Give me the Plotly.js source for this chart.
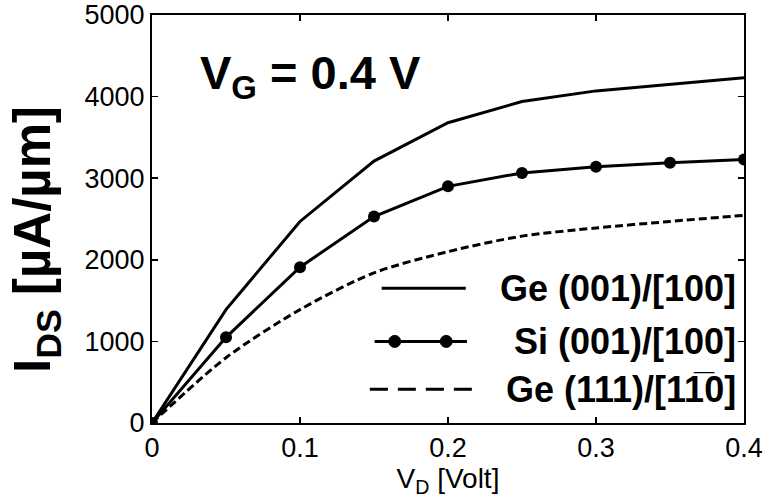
<!DOCTYPE html>
<html>
<head>
<meta charset="utf-8">
<script src="https://cdn.plot.ly/plotly-3.0.1.min.js"></script>
<style>html,body{margin:0;padding:0;background:#fff;}#chart{width:771px;height:502px;}</style>
</head>
<body>
<div id="chart"></div>
<script>
// Drain voltage V_D [Volt]
const vd = [0, 0.05, 0.1, 0.15, 0.2, 0.25, 0.3, 0.35, 0.4];
// Drain current I_DS [µA/µm]
const ge001 = [0, 1390, 2470, 3210, 3680, 3940, 4070, 4150, 4230];
const si001 = [0, 1050, 1910, 2530, 2900, 3065, 3140, 3190, 3230];
const ge111 = [0, 800, 1390, 1840, 2100, 2290, 2390, 2470, 2545];
const seriesNames = ["Ge (001)/[100]", "Si (001)/[100]", "Ge (111)/[11\u03050]"];
const xTicks = [0, 0.1, 0.2, 0.3, 0.4];
const yTicks = [0, 1000, 2000, 3000, 4000, 5000];

const FONT = "Liberation Sans, Arial, sans-serif";

const traces = [
  {x: vd, y: ge001, mode: "lines", name: seriesNames[0],
   line: {color: "#000", width: 3}},
  {x: vd, y: si001, mode: "lines+markers", name: seriesNames[1],
   line: {color: "#000", width: 3}, marker: {color: "#000", size: 12}},
  {x: vd, y: ge111, mode: "lines", name: seriesNames[2],
   line: {color: "#000", width: 3, dash: "8px,4px", shape: "spline", smoothing: 0.8}}
];

// custom legend (samples + labels)
const legY = [0.33, 0.2, 0.083];
const dotX = [0.41, 0.497];
const shapes = [
  {type: "line", xref: "paper", yref: "paper", x0: 0.388, x1: 0.53, y0: legY[0], y1: legY[0], line: {color: "#000", width: 3}},
  {type: "line", xref: "paper", yref: "paper", x0: 0.376, x1: 0.532, y0: legY[1], y1: legY[1], line: {color: "#000", width: 3}},
  {type: "line", xref: "paper", yref: "paper", x0: 0.368, x1: 0.55, y0: legY[2], y1: legY[2], line: {color: "#000", width: 3, dash: "18px,10px"}}
].concat(dotX.map(px => ({
  type: "circle", xref: "paper", yref: "paper", xsizemode: "pixel", ysizemode: "pixel",
  xanchor: px, yanchor: legY[1], x0: -6, x1: 6, y0: -6, y1: 6,
  fillcolor: "#000", line: {color: "#000", width: 1}
})));

const annotations = [
  {xref: "paper", yref: "paper", x: 0.078, y: 0.85, xanchor: "left", yanchor: "middle", showarrow: false,
   text: "<b>V<sub>G</sub> = 0.4 V</b>", font: {family: FONT, size: 47, color: "#000"}},
  {xref: "paper", yref: "paper", x: -0.195, y: 0.45, xanchor: "center", yanchor: "middle", showarrow: false,
   textangle: -90, text: "<b>I<sub>DS</sub> [µA/µm]</b>", font: {family: FONT, size: 51, color: "#000"}}
].concat(seriesNames.map((nm, i) => ({
  xref: "paper", yref: "paper", x: 0.99, y: legY[i], xanchor: "right", yanchor: "middle", showarrow: false,
  text: "<b>" + nm + "</b>", font: {family: FONT, size: 36, color: "#000"}
})));

const layout = {
  width: 771, height: 502,
  margin: {l: 152, r: 27, t: 15, b: 79},
  paper_bgcolor: "#fff", plot_bgcolor: "#fff",
  showlegend: false,
  font: {family: FONT, color: "#000"},
  xaxis: {
    range: [0, 0.4], tickvals: xTicks, ticktext: xTicks.map(v => String(v)),
    ticks: "inside", ticklen: 6, tickwidth: 1.5, tickcolor: "#000",
    showline: true, linecolor: "#000", linewidth: 2, mirror: "ticks",
    showgrid: false, zeroline: false,
    tickfont: {family: FONT, size: 27, color: "#000"},
    title: {text: "V<sub>D</sub> [Volt]", font: {family: FONT, size: 28, color: "#000"}, standoff: 2}
  },
  yaxis: {
    range: [0, 5000], tickvals: yTicks,
    ticks: "inside", ticklen: 6, tickwidth: 1.5, tickcolor: "#000",
    showline: true, linecolor: "#000", linewidth: 2, mirror: "ticks",
    showgrid: false, zeroline: false,
    tickfont: {family: FONT, size: 27, color: "#000"}
  },
  shapes: shapes,
  annotations: annotations
};

Plotly.newPlot("chart", traces, layout, {displayModeBar: false, staticPlot: true});
</script>
</body>
</html>
